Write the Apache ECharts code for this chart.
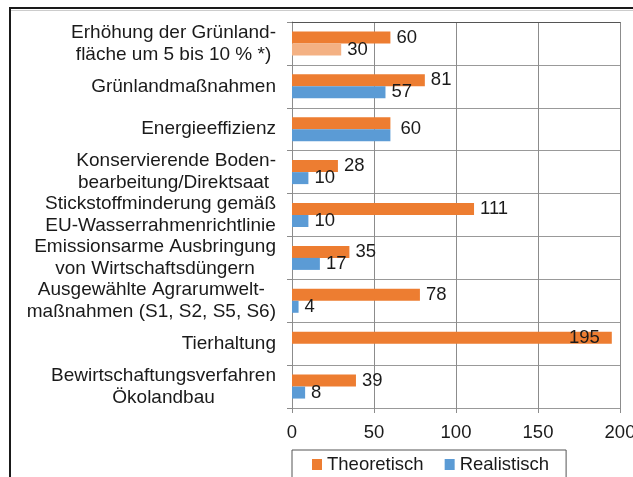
<!DOCTYPE html>
<html>
<head>
<meta charset="utf-8">
<script src="https://cdn.jsdelivr.net/npm/echarts@6/dist/echarts.min.js"></script>
<style>
  html, body { margin: 0; padding: 0; background: #fff; }
  #chart { width: 633px; height: 477px; }
</style>
</head>
<body>
<div id="chart"></div>
<script>
const categories = [
  'Erhöhung der Grünland-\nfläche um 5 bis 10 % *)',
  'Grünlandmaßnahmen',
  'Energieeffizienz',
  'Konservierende Boden-\nbearbeitung/Direktsaat ',
  'Stickstoffminderung gemäß\nEU-Wasserrahmenrichtlinie',
  'Emissionsarme Ausbringung\nvon Wirtschaftsdüngern',
  'Ausgewählte Agrarumwelt-\nmaßnahmen (S1, S2, S5, S6)',
  'Tierhaltung',
  'Bewirtschaftungsverfahren\nÖkolandbau'
];
const theoretisch = [60, 81, 60, 28, 111, 35, 78, 195, 39];
const realistisch = [30, 57, 60, 10, 10, 17, 4, null, 8];
const xTicks = { min: 0, max: 200, interval: 50 };

const FONT = 'Liberation Sans, Arial, sans-serif';
const FS = 18.5;
const TXT = '#1a1a1a';

const chart = echarts.init(document.getElementById('chart'), null, { renderer: 'canvas' });

// Theoretisch labels: one shared label for Energieeffizienz, inside for Tierhaltung
const theoData = theoretisch.map((v, i) => {
  if (i === 2) return { value: v, label: { offset: [4, 6] } };
  if (i === 7) return { value: v, label: { position: 'insideRight', distance: 12 } };
  return v;
});
const realData = realistisch.map((v, i) => {
  if (v === null) return '-';
  if (i === 0) return { value: v, itemStyle: { color: '#F4B183' } };
  if (i === 2) return { value: v, label: { show: false } };
  return v;
});

const option = {
  backgroundColor: '#ffffff',
  animation: false,
  textStyle: { fontFamily: FONT },
  grid: { left: 292, right: 13, top: 22, bottom: 69, containLabel: false, outerBoundsMode: 'none' },
  legend: {
    left: 292,
    top: 450,
    icon: 'rect',
    itemWidth: 10,
    itemHeight: 11,
    itemGap: 21,
    padding: [5, 17, 30, 20],
    borderColor: '#555',
    borderWidth: 1,
    textStyle: { fontSize: FS, color: TXT, fontFamily: FONT },
    data: ['Theoretisch', 'Realistisch']
  },
  xAxis: [{
    type: 'value',
    min: xTicks.min,
    max: xTicks.max,
    interval: xTicks.interval,
    axisLine: { show: false },
    axisTick: { show: true, length: 5, lineStyle: { color: '#8c8c8c' } },
    axisLabel: { fontSize: FS, color: TXT, fontFamily: FONT, margin: 15, hideOverlap: false },
    splitLine: { show: true, lineStyle: { color: '#8c8c8c', width: 1 } }
  }, {
    type: 'value',
    position: 'top',
    min: xTicks.min,
    max: xTicks.max,
    axisLine: { show: true, lineStyle: { color: '#555' } },
    axisTick: { show: false },
    axisLabel: { show: false },
    splitLine: { show: false }
  }],
  yAxis: {
    type: 'category',
    inverse: true,
    data: categories,
    axisLine: { show: true, lineStyle: { color: '#8c8c8c' } },
    axisTick: { show: true, length: 5, lineStyle: { color: '#8c8c8c' } },
    splitLine: { show: true, lineStyle: { color: '#999' } },
    axisLabel: {
      margin: 16,
      align: 'right',
      formatter: v => v.split('\n').map(l => '{c|' + l + '}').join('\n'),
      rich: {
        c: { fontSize: 19, color: TXT, fontFamily: FONT, align: 'center', lineHeight: 22 }
      }
    }
  },
  series: [{
    name: 'Theoretisch',
    type: 'bar',
    data: theoData,
    barGap: '0%',
    barCategoryGap: '44%',
    itemStyle: { color: '#ED7D31' },
    label: { show: true, position: 'right', distance: 6, fontSize: FS, color: TXT, fontFamily: FONT }
  }, {
    name: 'Realistisch',
    type: 'bar',
    data: realData,
    itemStyle: { color: '#5B9BD5' },
    label: { show: true, position: 'right', distance: 6, fontSize: FS, color: TXT, fontFamily: FONT }
  }],
  graphic: [{
    type: 'rect',
    shape: { x: 10, y: 8, width: 700, height: 600 },
    style: { fill: 'none', stroke: '#1a1a1a', lineWidth: 2 },
    silent: true
  }, {
    type: 'line',
    shape: { x1: 11, y1: 10.5, x2: 633, y2: 10.5 },
    style: { stroke: '#ccc', lineWidth: 1 },
    silent: true
  }]
};

chart.setOption(option);
</script>
</body>
</html>
